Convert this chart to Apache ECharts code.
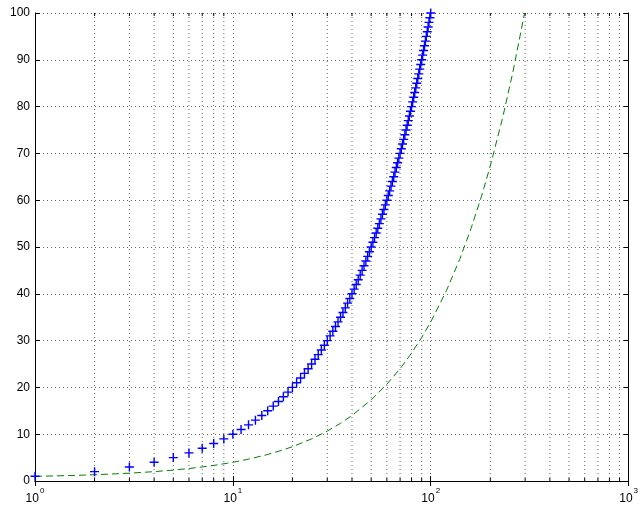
<!DOCTYPE html>
<html><head><meta charset="utf-8">
<script src="https://cdn.jsdelivr.net/npm/echarts@6/dist/echarts.min.js"></script>
<style>html,body{margin:0;padding:0;background:#fff}#c{width:641px;height:507px}</style>
</head><body><div id="c"></div>
<script>
// Blue '+' series
var blueX = [1,2,3,4,5,6,7,8,9,10,11,12,13,14,15,16,17,18,19,20,21,22,23,24,25,26,27,28,29,30,31,32,33,34,35,36,37,38,39,40,41,42,43,44,45,46,47,48,49,50,51,52,53,54,55,56,57,58,59,60,61,62,63,64,65,66,67,68,69,70,71,72,73,74,75,76,77,78,79,80,81,82,83,84,85,86,87,88,89,90,91,92,93,94,95,96,97,98,99,100];
var blueY = [1,2,3,4,5,6,7,8,9,10,11,12,13,14,15,16,17,18,19,20,21,22,23,24,25,26,27,28,29,30,31,32,33,34,35,36,37,38,39,40,41,42,43,44,45,46,47,48,49,50,51,52,53,54,55,56,57,58,59,60,61,62,63,64,65,66,67,68,69,70,71,72,73,74,75,76,77,78,79,80,81,82,83,84,85,86,87,88,89,90,91,92,93,94,95,96,97,98,99,100];
// Green dashed series
var greenX = [1,1.5,2,3,4,5,6,7,8,10,12,15,18,20,25,30,35,40,50,60,70,80,90,100,120,140,160,180,200,230,260,298];
var greenY = [1,1.17,1.33,1.67,2,2.33,2.67,3,3.33,4,4.67,5.67,6.67,7.33,9,10.67,12.33,14,17.33,20.67,24,27.33,30.67,34,40.67,47.33,54,60.67,67.33,77.33,87.33,100];
// Axis ticks
var yTicks = [0,10,20,30,40,50,60,70,80,90,100];
var xMajor = [1,10,100,1000];
var xMinor = [2,3,4,5,6,7,8,9,20,30,40,50,60,70,80,90,200,300,400,500,600,700,800,900];

var chart = echarts.init(document.getElementById('c'), null, {renderer:'canvas'});
var font = 'Liberation Sans, Arial, Helvetica, sans-serif';
var gridColor = '#666';

function pairs(xs, ys){ return xs.map(function(x,i){return [x, ys[i]];}); }

var axisCommon = {
  axisLine:{show:true, lineStyle:{color:'#000', width:1}},
  axisTick:{show:true, inside:true, length:5, lineStyle:{color:'#000'}},
  splitLine:{show:false}
};

chart.setOption({
  animation:false,
  grid:{left:35, right:9, top:13, bottom:26, containLabel:false},
  xAxis:[
    Object.assign({}, axisCommon, {
      type:'log', logBase:10, min:1, max:1000, position:'bottom',
      axisLabel:{show:true, margin:6, color:'#000', fontFamily:font, fontSize:12,
        formatter:function(v){ var e=Math.round(Math.log10(v)); return '{b|10}{s|'+e+'}'; },
        rich:{b:{fontSize:12, fontFamily:font, color:'#000', verticalAlign:'bottom', lineHeight:18},
              s:{fontSize:8, fontFamily:font, color:'#000', verticalAlign:'top', lineHeight:18, padding:[0,0,0,1]}}},
      splitLine:{show:true, lineStyle:{color:gridColor, type:[1,3], width:1}}
    }),
    Object.assign({}, axisCommon, {
      type:'log', logBase:10, min:1, max:1000, position:'top',
      axisLabel:{show:false}
    })
  ],
  yAxis:[
    Object.assign({}, axisCommon, {
      type:'value', min:0, max:100, interval:10, position:'left',
      axisLabel:{show:true, margin:5, color:'#000', fontFamily:font, fontSize:12},
      splitLine:{show:true, lineStyle:{color:gridColor, type:[1,3], width:1}}
    }),
    Object.assign({}, axisCommon, {
      type:'value', min:0, max:100, interval:10, position:'right',
      axisLabel:{show:false}
    })
  ],
  series:[
    {
      type:'custom', xAxisIndex:0, yAxisIndex:0, silent:true, z:1,
      data: xMinor.map(function(v){return [v];}),
      renderItem:function(params, api){
        var x = api.value(0);
        var top = api.coord([x, 100]);
        var bot = api.coord([x, 0]);
        return {type:'group', children:[
          {type:'line', shape:{x1:top[0], y1:top[1], x2:bot[0], y2:bot[1]},
           style:{stroke:gridColor, lineWidth:1, lineDash:[1,3]}},
          {type:'line', shape:{x1:bot[0], y1:bot[1], x2:bot[0], y2:bot[1]-3},
           style:{stroke:'#000', lineWidth:1}},
          {type:'line', shape:{x1:top[0], y1:top[1], x2:top[0], y2:top[1]+3},
           style:{stroke:'#000', lineWidth:1}}
        ]};
      }
    },
    {
      type:'line', xAxisIndex:0, yAxisIndex:0, z:3,
      data: pairs(greenX, greenY),
      showSymbol:false, symbol:'none', smooth:false,
      lineStyle:{color:'#008000', width:1, type:[7,4]}
    },
    {
      type:'scatter', xAxisIndex:0, yAxisIndex:0, z:4,
      data: pairs(blueX, blueY),
      symbol:'path://M3.8,0h1.4v9h-1.4zM0,3.8h9v1.4h-9z', symbolSize:9,
      itemStyle:{color:'#0000ff', opacity:1}
    }
  ]
});
</script></body></html>
